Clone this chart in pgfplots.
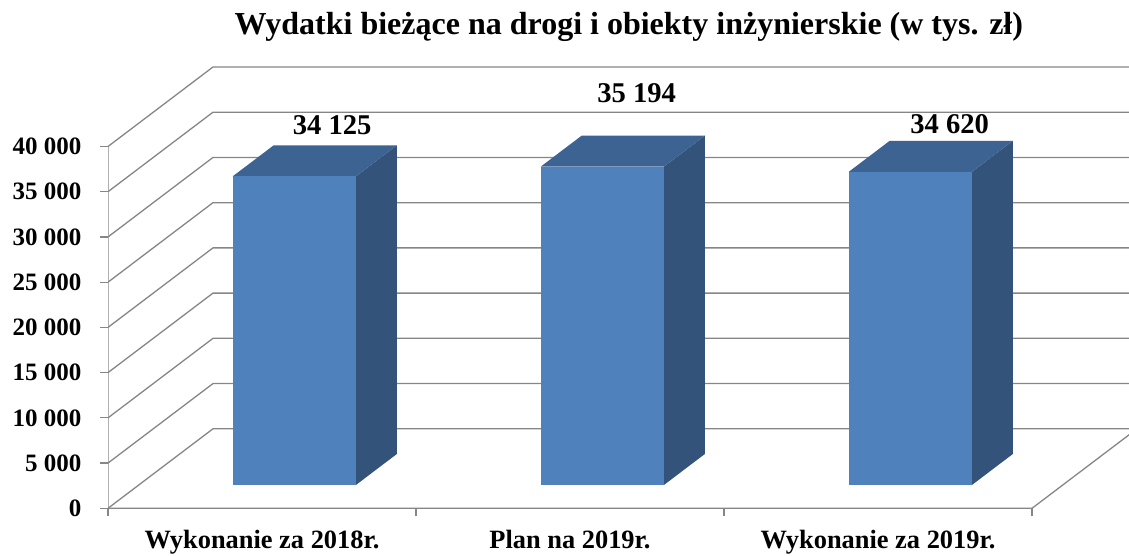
\documentclass[border=0pt]{standalone}
\usepackage{fontspec}
\setmainfont{Liberation Serif}
\usepackage{pgfplots}
\pgfplotsset{compat=1.18}
\definecolor{gridc}{RGB}{134,134,134}
\definecolor{barfront}{RGB}{79,129,189}
\definecolor{bartop}{RGB}{61,99,146}
\definecolor{barside}{RGB}{51,83,122}
\begin{document}
\begin{tikzpicture}
\path[use as bounding box] (0,0) rectangle (1129pt,556pt);
\begin{axis}[
 at={(108pt,47.7pt)}, anchor=south west,
 scale only axis, width=1021pt, height=447.73pt,
 xmin=0.5, xmax=3.81494, ymin=0, ymax=49500,
 axis x line*=bottom, axis y line*=left,
 axis line style={draw=none},
 scaled y ticks=false,
 xtick={1,2,3},
 xticklabels={Wykonanie za 2018r., Plan na 2019r., Wykonanie za 2019r.},
 minor xtick={0.5,1.5,2.5,3.5},
 ytick={0,5000,10000,15000,20000,25000,30000,35000,40000},
 yticklabels={0,5 000,10 000,15 000,20 000,25 000,30 000,35 000,40 000},
 tick align=outside,
 tick style={gridc, line width=1.3pt},
 major x tick style={draw=none},
 major tick length=8pt, minor tick length=8pt,
 yticklabel style={font=\fontsize{25}{30}\selectfont\bfseries, inner sep=0pt, anchor=east, xshift=-18.3pt},
 xticklabel style={font=\fontsize{26.4}{30}\selectfont\bfseries, inner sep=0pt, anchor=north, yshift=-14pt},
 table/x expr={\thisrow{x}+0.3409*\thisrow{d}},
 table/y expr={\thisrow{v}+8790*\thisrow{d}},
 table/row sep=\\,
]
% walls: left-wall diagonals and back-wall grid lines
\addplot[gridc, line width=1.3pt] table {x d v\\ 0.5 0 0\\ 0.5 1 0\\ 4.2 1 0\\};
\addplot[gridc, line width=1.3pt] table {x d v\\ 0.5 0 5000\\ 0.5 1 5000\\ 4.2 1 5000\\};
\addplot[gridc, line width=1.3pt] table {x d v\\ 0.5 0 10000\\ 0.5 1 10000\\ 4.2 1 10000\\};
\addplot[gridc, line width=1.3pt] table {x d v\\ 0.5 0 15000\\ 0.5 1 15000\\ 4.2 1 15000\\};
\addplot[gridc, line width=1.3pt] table {x d v\\ 0.5 0 20000\\ 0.5 1 20000\\ 4.2 1 20000\\};
\addplot[gridc, line width=1.3pt] table {x d v\\ 0.5 0 25000\\ 0.5 1 25000\\ 4.2 1 25000\\};
\addplot[gridc, line width=1.3pt] table {x d v\\ 0.5 0 30000\\ 0.5 1 30000\\ 4.2 1 30000\\};
\addplot[gridc, line width=1.3pt] table {x d v\\ 0.5 0 35000\\ 0.5 1 35000\\ 4.2 1 35000\\};
\addplot[gridc, line width=1.3pt] table {x d v\\ 0.5 0 40000\\ 0.5 1 40000\\ 4.2 1 40000\\};
% front-left axis, front floor edge, right floor edge
\addplot[gridc, line width=1.3pt] table {x d v\\ 0.5 0 40000\\ 0.5 0 0\\ 3.5 0 0\\ 3.5 1 0\\};
% bar 1
\addplot[draw=none, fill=barside] table {x d v\\ 1.205 0.293 0\\ 1.205 0.683 0\\ 1.205 0.683 34125\\ 1.205 0.293 34125\\};
\addplot[draw=none, fill=bartop] table {x d v\\ 0.805 0.293 34125\\ 1.205 0.293 34125\\ 1.205 0.683 34125\\ 0.805 0.683 34125\\};
\addplot[draw=none, fill=barfront] table {x d v\\ 0.805 0.293 0\\ 1.205 0.293 0\\ 1.205 0.293 34125\\ 0.805 0.293 34125\\};
% bar 2
\addplot[draw=none, fill=barside] table {x d v\\ 2.205 0.293 0\\ 2.205 0.683 0\\ 2.205 0.683 35194\\ 2.205 0.293 35194\\};
\addplot[draw=none, fill=bartop] table {x d v\\ 1.805 0.293 35194\\ 2.205 0.293 35194\\ 2.205 0.683 35194\\ 1.805 0.683 35194\\};
\addplot[draw=none, fill=barfront] table {x d v\\ 1.805 0.293 0\\ 2.205 0.293 0\\ 2.205 0.293 35194\\ 1.805 0.293 35194\\};
% bar 3
\addplot[draw=none, fill=barside] table {x d v\\ 3.205 0.293 0\\ 3.205 0.683 0\\ 3.205 0.683 34620\\ 3.205 0.293 34620\\};
\addplot[draw=none, fill=bartop] table {x d v\\ 2.805 0.293 34620\\ 3.205 0.293 34620\\ 3.205 0.683 34620\\ 2.805 0.683 34620\\};
\addplot[draw=none, fill=barfront] table {x d v\\ 2.805 0.293 0\\ 3.205 0.293 0\\ 3.205 0.293 34620\\ 2.805 0.293 34620\\};
% data labels
\node[font=\fontsize{28.6}{32}\selectfont\bfseries] at (axis cs:1.2279,42355) {34 125};
\node[font=\fontsize{28.6}{32}\selectfont\bfseries] at (axis cs:2.2166,45937) {35 194};
\node[font=\fontsize{28.6}{32}\selectfont\bfseries] at (axis cs:3.2328,42465) {34 620};
\end{axis}
\node[anchor=base, font=\fontsize{32}{36}\selectfont\bfseries] at (628.8pt,521pt) {Wydatki bieżące na drogi i obiekty inżynierskie (w tys. zł)};
\end{tikzpicture}
\end{document}
